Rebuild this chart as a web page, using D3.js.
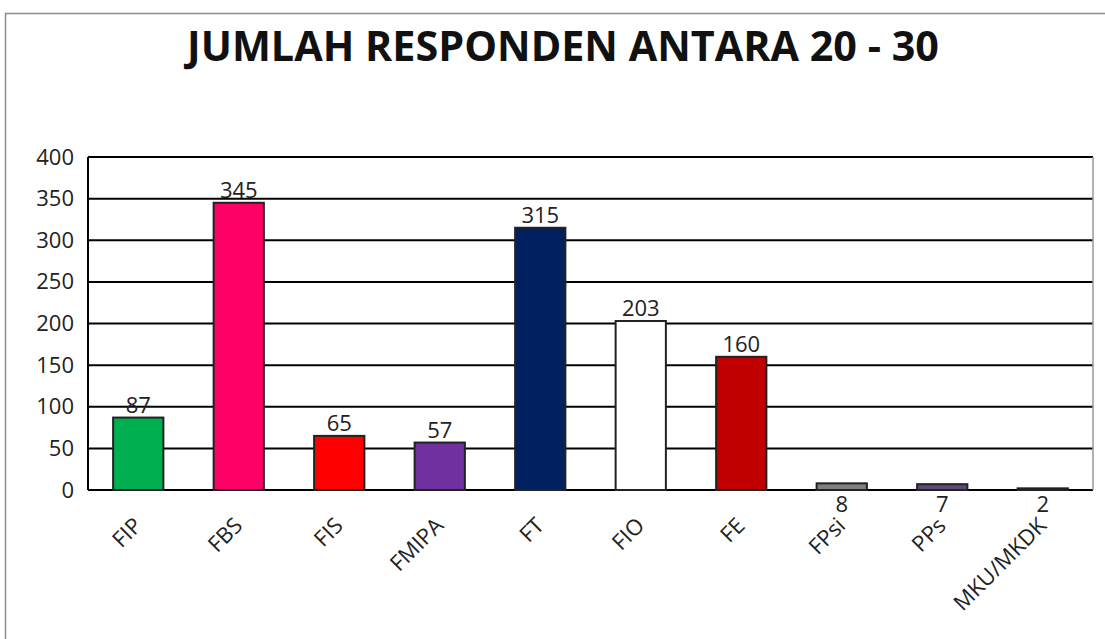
<!DOCTYPE html>
<html>
<head>
<meta charset="utf-8">
<script src="https://cdn.jsdelivr.net/npm/d3@7"></script>
<style>
  body { margin: 0; background: #fff; }
  svg { display: block; font-family: "Open Sans", "DejaVu Sans", sans-serif; }
</style>
</head>
<body>
<div id="chart"></div>
<script>
const categories = ["FIP", "FBS", "FIS", "FMIPA", "FT", "FIO", "FE", "FPsi", "PPs", "MKU/MKDK"];
const values = [87, 345, 65, 57, 315, 203, 160, 8, 7, 2];
const colors = ["#00B050", "#FF0066", "#FF0000", "#7030A0", "#002060", "#FFFFFF", "#C00000", "#808080", "#5F497A", "#1A1A1A"];
const yTicks = [0, 50, 100, 150, 200, 250, 300, 350, 400];
const title = "JUMLAH RESPONDEN ANTARA 20 - 30";

const width = 1105, height = 639;
const m = { left: 88, right: 12, top: 157, bottom: 149 };

const svg = d3.select("#chart").append("svg").attr("width", width).attr("height", height);

// outer chart frame
svg.append("rect")
  .attr("x", 5.5).attr("y", 13.5)
  .attr("width", width + 20).attr("height", height + 20)
  .style("fill", "none").style("stroke", "#8c8c8c").style("stroke-width", 1.5);

svg.append("text")
  .attr("x", 563).attr("y", 61)
  .attr("text-anchor", "middle")
  .attr("textLength", 752).attr("lengthAdjust", "spacingAndGlyphs")
  .style("font-size", "41px").style("font-weight", "bold").style("fill", "#111")
  .text(title);

const x = d3.scaleBand().domain(categories).range([m.left, width - m.right]).paddingInner(0.5).paddingOuter(0.25);
const y = d3.scaleLinear().domain([0, 400]).range([height - m.bottom, m.top]);

// gridlines
svg.append("g")
  .selectAll("line")
  .data(yTicks)
  .enter()
  .append("line")
  .attr("x1", m.left).attr("x2", width - m.right)
  .attr("y1", d => y(d)).attr("y2", d => y(d))
  .style("stroke", "#000").style("stroke-width", 2);

// plot frame
svg.append("line")
  .attr("x1", m.left).attr("x2", m.left).attr("y1", y(400)).attr("y2", y(0))
  .style("stroke", "#000").style("stroke-width", 2);
svg.append("line")
  .attr("x1", width - m.right).attr("x2", width - m.right).attr("y1", y(400)).attr("y2", y(0))
  .style("stroke", "#999").style("stroke-width", 1.5);

// y axis labels
const yAxis = svg.append("g")
  .attr("transform", `translate(${m.left - 14},0)`)
  .call(d3.axisLeft(y).tickValues(yTicks).tickSize(0).tickPadding(0));
yAxis.select(".domain").remove();
yAxis.selectAll("text").style("font-size", "22px").style("fill", "#222").style("font-family", "Open Sans, sans-serif");

// bars
svg.append("g")
  .selectAll("rect")
  .data(values)
  .enter()
  .append("rect")
  .attr("x", (d, i) => x(categories[i]))
  .attr("y", d => y(d))
  .attr("width", x.bandwidth())
  .attr("height", d => y(0) - y(d))
  .style("fill", (d, i) => colors[i])
  .style("stroke", "#222").style("stroke-width", 2);

// value labels (tiny bars get their label under the axis, as in the source)
svg.append("g")
  .selectAll("text")
  .data(values)
  .enter()
  .append("text")
  .attr("x", (d, i) => x(categories[i]) + x.bandwidth() / 2)
  .attr("y", d => d < 20 ? y(0) + 22 : y(d) - 5)
  .attr("text-anchor", "middle")
  .style("font-size", "22px").style("fill", "#222")
  .text(d => d);

// category labels
svg.append("g")
  .selectAll("text")
  .data(categories)
  .enter()
  .append("text")
  .attr("transform", d => `translate(${x(d) + x.bandwidth() / 2 + 5},${y(0) + 37}) rotate(-45)`)
  .attr("text-anchor", "end")
  .style("font-size", "22px").style("fill", "#222")
  .text(d => d);
</script>
</body>
</html>
